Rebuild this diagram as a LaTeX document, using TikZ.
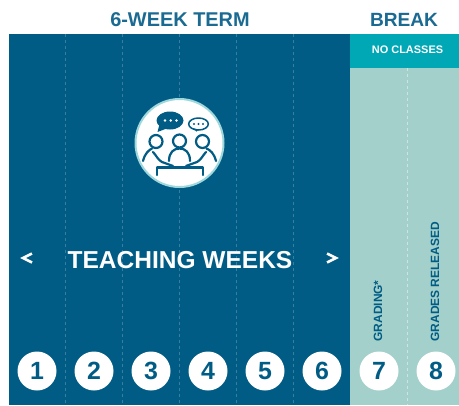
\documentclass[tikz,border=0pt]{standalone}
\usepackage{fontspec}
\setmainfont{Liberation Sans}
\definecolor{termblue}{HTML}{005C85}
\definecolor{breakteal}{HTML}{00A7B5}
\definecolor{breakpale}{HTML}{A3D0CA}
\definecolor{headblue}{HTML}{1A6A92}
\definecolor{ringpale}{HTML}{9FD8DC}
\tikzset{
  weeknum/.style={circle,fill=white,minimum size=39bp,inner sep=0pt,text=termblue,font=\fontsize{25}{25}\selectfont\bfseries},
  weekline/.style={white,opacity=0.22,line width=0.7bp,dash pattern=on 3bp off 3bp},
  iconline/.style={termblue,line width=2.2bp,line cap=round,line join=round},
  chevron/.style={white,line width=2.6bp,line join=miter},
  headtext/.style={text=headblue,font=\fontsize{20}{20}\selectfont\bfseries},
  sidetext/.style={text=termblue,rotate=90,anchor=west,font=\fontsize{12}{12}\selectfont\bfseries},
}
\begin{document}
\begin{tikzpicture}[x=1bp,y=-1bp]
\useasboundingbox (0,0) rectangle (459,405);%

% Drawing panels
\fill [termblue] (9,34) rectangle (350,405);%
\fill [breakpale] (350,68) rectangle (459,405);%
\fill [breakteal] (350,34) rectangle (459,68);%

% Drawing week separators
\draw [weekline] (65.5,34) -- (65.5,405);%
\draw [weekline] (122.5,34) -- (122.5,405);%
\draw [weekline] (179.5,34) -- (179.5,405);%
\draw [weekline] (236.5,34) -- (236.5,405);%
\draw [weekline] (293.5,34) -- (293.5,405);%
\draw [weekline,opacity=0.45] (407,68) -- (407,405);%

% Drawing headings
\node [headtext] (termhead) at (180,20) {6-WEEK TERM};%
\node [headtext,font=\fontsize{19.2}{20}\selectfont\bfseries] (breakhead) at (404,20) {BREAK};%
\node [text=white,font=\fontsize{11}{11}\selectfont\bfseries] (noclasses) at (407.5,50) {NO CLASSES};%

% Drawing teaching label
\node [text=white,font=\fontsize{24.6}{25}\selectfont\bfseries] (teaching) at (180,260) {TEACHING WEEKS};%
\draw [chevron] (32,253.5) -- (23,258) -- (32,262.5);%
\draw [chevron] (327,253.5) -- (336,258) -- (327,262.5);%

% Drawing side labels
\node [sidetext] (grading) at (378,345) {GRADING*};%
\node [sidetext] (released) at (435,345) {GRADES RELEASED};%

% Drawing week numbers
\node [weeknum] (week1) at (37,371) {1};%
\node [weeknum] (week2) at (94,371) {2};%
\node [weeknum] (week3) at (151,371) {3};%
\node [weeknum] (week4) at (208,371) {4};%
\node [weeknum] (week5) at (265,371) {5};%
\node [weeknum] (week6) at (322,371) {6};%
\node [weeknum] (week7) at (379,371) {7};%
\node [weeknum] (week8) at (436,371) {8};%

% Drawing icon disc
\draw [fill=white,draw=ringpale,line width=2bp] (179.5,143) circle (44);%

% Drawing speech bubbles
\fill [termblue] (170,120.5) ellipse (13.5 and 9);%
\fill [termblue] (160,122) -- (157.5,132) -- (168,128) -- cycle;%
\fill [white] (165,120.5) circle (1.4);%
\fill [white] (170.7,120.5) circle (1.4);%
\fill [white] (176.5,120.5) circle (1.4);%
\draw [iconline,line width=1.5bp] (198.5,124) ellipse (9.8 and 6);%
\fill [termblue] (192.5,128) -- (196.5,131.5) -- (198.5,129.5) -- cycle;%
\fill [termblue] (194,124) circle (1.1);%
\fill [termblue] (198.5,124) circle (1.1);%
\fill [termblue] (203,124) circle (1.1);%

% Drawing people
\draw [iconline] (156,141.5) circle (6.5);%
\draw [iconline] (179.5,141) circle (6.5);%
\draw [iconline] (202.5,141.5) circle (6.5);%
\draw [iconline] (143,161) .. controls (145,153) and (149,150) .. (152,148.5);%
\draw [iconline] (216,161) .. controls (214,153) and (210,150) .. (206.5,148.5);%
\draw [iconline] (169,161) .. controls (169,152) and (174,148.5) .. (179.5,148.5) .. controls (185,148.5) and (190,152) .. (190,161);%
\draw [iconline] (153,152) .. controls (156,155) and (158,160) .. (162,162) -- (173,166);%
\draw [iconline] (206,152) .. controls (203,155) and (201,160) .. (197,162) -- (186,166);%

% Drawing table
\draw [iconline] (157,175) -- (157,167.5) -- (203,167.5) -- (203,175);%
\end{tikzpicture}
\end{document}
